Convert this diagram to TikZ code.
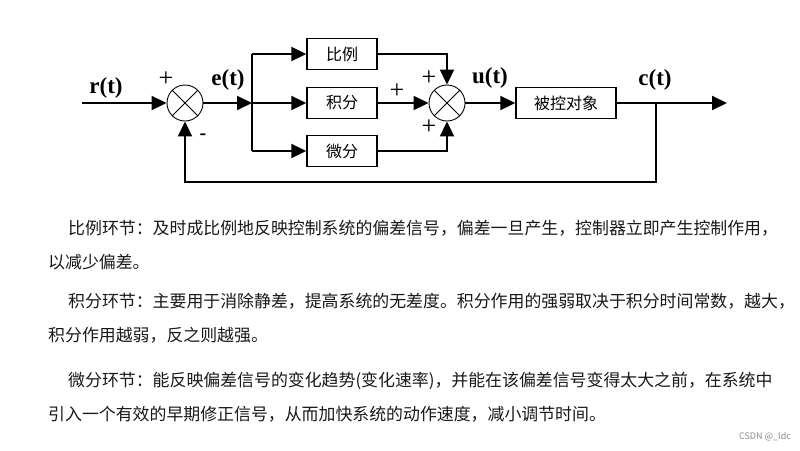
\documentclass[tikz,border=0pt]{standalone}
\usepackage{fontspec}
\setmainfont{Liberation Serif}
\newfontfamily\cjk{Noto Sans CJK SC}
\usetikzlibrary{arrows.meta, positioning}

\begin{document}
\begin{tikzpicture}[x=1pt, y=-1pt,
    block/.style={rectangle, draw, line width=1.4pt, minimum width=70pt, minimum height=31pt, inner sep=0pt, font=\cjk\fontsize{16}{16}\selectfont},
    sum/.style={circle, draw, line width=0.9pt, minimum size=36pt, inner sep=0pt,
        path picture={\draw[line width=0.9pt] (path picture bounding box.north west) -- (path picture bounding box.south east)
                      (path picture bounding box.north east) -- (path picture bounding box.south west);}},
    arrow/.style={-{Triangle[length=15pt,width=14pt]}, line width=2pt},
    wire/.style={line width=2pt},
    signal/.style={font=\bfseries\fontsize{23}{23}\selectfont},
    sign/.style={font=\fontsize{26}{26}\selectfont},
    para/.style={anchor=west, inner sep=0pt, text=black!90, font=\cjk\fontsize{16.9}{16.9}\selectfont}]

    \useasboundingbox[fill=white] (0,0) rectangle (800,450);

    % Block diagram
    \node[sum] (sum1) at (185,103) {};
    \node[sum] (sum2) at (447,103) {};
    \coordinate (in) at (82,103);
    \coordinate (split) at (252,103);
    \node[block] (kp) at (342,54) {比例};
    \node[block] (ki) at (342,103) {积分};
    \node[block] (kd) at (342,151) {微分};
    \node[block, minimum width=100pt] (plant) at (566,103) {被控对象};
    \coordinate (tap) at (656,103);
    \coordinate (out) at (727,103);
    \coordinate (fb) at (656,182);

    \node[signal] (rlbl) at (106,88) {r(t)};
    \node[signal] (elbl) at (228,80) {e(t)};
    \node[signal] (ulbl) at (490,78) {u(t)};
    \node[signal] (clbl) at (655,80) {c(t)};

    \node[sign] (p1) at (166,79) {+};
    \node[sign, font=\bfseries\fontsize{20}{20}\selectfont] (m1) at (203,137) {-};
    \node[sign] (p2) at (397,91) {+};
    \node[sign] (p3) at (429,78) {+};
    \node[sign] (p4) at (429,127) {+};

    \draw[arrow] (in) -- (sum1);
    \draw[arrow] (sum1) -- (split);
    \draw[wire] (split |- kp) -- (split |- kd);
    \draw[arrow] (split |- kp) -- (kp);
    \draw[arrow] (split) -- (ki);
    \draw[arrow] (split |- kd) -- (kd);
    \draw[arrow] (kp) -| (sum2);
    \draw[arrow] (ki) -- (sum2);
    \draw[arrow] (kd) -| (sum2);
    \draw[arrow] (sum2) -- (plant);
    \draw[arrow] (plant) -- (out);
    \draw[arrow] (tap) -- (fb) -| (sum1);

    % Explanations
    \node[para] (t1) at (68,228) {比例环节：及时成比例地反映控制系统的偏差信号，偏差一旦产生，控制器立即产生控制作用，};
    \node[para] (t2) at (48,262) {以减少偏差。};
    \node[para] (t3) at (68,301) {积分环节：主要用于消除静差，提高系统的无差度。积分作用的强弱取决于积分时间常数，越大，};
    \node[para] (t4) at (48,335) {积分作用越弱，反之则越强。};
    \node[para] (t5) at (68,381) {微分环节：能反映偏差信号的变化趋势(变化速率)，并能在该偏差信号变得太大之前，在系统中};
    \node[para] (t6) at (48,414) {引入一个有效的早期修正信号，从而加快系统的动作速度，减小调节时间。};
    \node[text=black!45, font=\cjk\fontsize{9}{9}\selectfont] (mark) at (765,437) {CSDN @\_ldc};

\end{tikzpicture}
\end{document}
